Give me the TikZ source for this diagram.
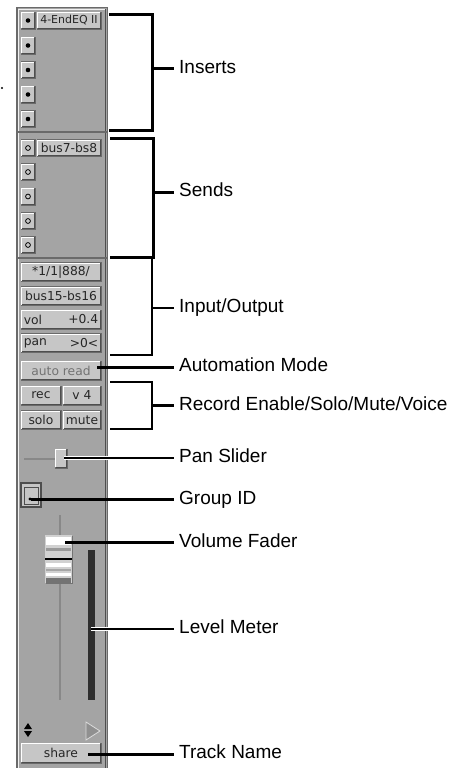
\documentclass[tikz,border=0pt]{standalone}
\usepackage{fontspec}
\setmainfont{Liberation Sans}
\newfontfamily\btnfont{DejaVu Sans}
\definecolor{panel}{HTML}{A4A4A4}
\definecolor{btnfill}{HTML}{C6C6C6}
\definecolor{btnedge}{HTML}{6A6A6A}
\definecolor{dk}{HTML}{4E4E4E}
\definecolor{trk}{HTML}{888888}
\newcommand\bvl[1]{%
  \draw[white,line width=1pt] ([shift={(1,-1)}]#1.south west) -- ([shift={(1,1)}]#1.north west) -- ([shift={(-1,1)}]#1.north east);
  \draw[dk,line width=1pt] ([shift={(-1,1)}]#1.north east) -- ([shift={(-1,-1)}]#1.south east) -- ([shift={(1,-1)}]#1.south west);}
\begin{document}
\begin{tikzpicture}[x=1pt,y=-1pt,
  btn/.style={draw=btnedge, fill=btnfill, line width=0.8pt, inner sep=0pt,
    font=\btnfont\fontsize{12.3}{12}\selectfont, text=black!85},
  sbtn/.style={btn, minimum width=14pt, minimum height=17pt},
  wbtn/.style={btn, minimum width=80pt, minimum height=19pt},
  btxt/.style={inner sep=0pt, font=\btnfont\fontsize{12.3}{12}\selectfont, text=black!85},
  lbl/.style={anchor=west, inner xsep=5pt, inner ysep=0pt, font=\fontsize{19}{22}\selectfont,
    text height=13.5pt, text depth=4pt},
  brk/.style={line width=3pt, line join=miter},
  thin/.style={line width=2pt, line join=miter},
  lnk/.style={line width=3pt},
  fine/.style={line width=1.3pt, preaction={draw=white, line width=3.5pt}}]
\useasboundingbox (0,0) rectangle (455,768);
% panel
\fill[panel] (16,7) rectangle (108,768);
\draw[btnedge, line width=1.5pt] (16.75,768) -- (16.75,7.75) -- (107.25,7.75) -- (107.25,768);
\draw[white!85!panel, line width=1pt] (18.5,768) -- (18.5,9.5) -- (105.5,9.5);
\draw[dk, line width=1pt] (105.5,9.5) -- (105.5,768);
\draw[btnedge, line width=1.5pt] (16,132) -- (108,132);
\draw[btnedge, line width=1.5pt] (16,258) -- (108,258);
\fill (2,88) circle (1.2);
% inserts
\foreach \i/\y in {1/20.5,2/45.5,3/70,4/94.5,5/119}{
  \node[sbtn] (ins\i) at (28,\y) {};
  \fill (ins\i) circle (2.3);
  \bvl{ins\i}
}
\node[btn, minimum width=64pt, minimum height=17pt, font=\btnfont\fontsize{11}{12}\selectfont] (insN) at (69,20.5) {4-EndEQ II};
\bvl{insN}
% sends
\foreach \i/\y in {1/148,2/172,3/196.5,4/221,5/245}{
  \node[sbtn] (snd\i) at (28,\y) {};
  \draw[line width=0.8pt] (snd\i) circle (2.4);
  \bvl{snd\i}
}
\node[btn, minimum width=64pt, minimum height=17pt] (sndN) at (69,148) {bus7-bs8};
\bvl{sndN}
% input / output
\node[wbtn] (inp) at (61,272) {*1/1|888/};
\node[wbtn] (outp) at (61,296) {bus15-bs16};
\node[wbtn] (vol) at (61,319.5) {};
\node[btxt, anchor=west] (volA) at ([xshift=3pt]vol.west) {vol};
\node[btxt, anchor=east] (volB) at ([xshift=-3pt]vol.east) {+0.4};
\node[wbtn] (pan) at (61,343) {};
\node[btxt, anchor=west] (panA) at ([xshift=3pt]pan.west) {pan};
\node[btxt, anchor=east] (panB) at ([xshift=-3pt]pan.east) {>0<};
\node[wbtn, text=black!55] (auto) at (61,370.5) {auto read};
\node[btn, minimum width=40pt, minimum height=19pt] (rec) at (41,395.5) {rec};
\node[btn, minimum width=38pt, minimum height=19pt] (voice) at (82,395.5) {v 4};
\node[btn, minimum width=40pt, minimum height=19pt] (solo) at (41,420) {solo};
\node[btn, minimum width=38pt, minimum height=19pt] (mute) at (82,420) {mute};
\foreach \n in {inp,outp,vol,pan,auto,rec,voice,solo,mute}{\bvl{\n}}
% pan slider
\draw[trk, line width=1.2pt] (24,459) -- (55,459);
\node[btn, minimum width=12pt, minimum height=19pt] (pank) at (61,458.5) {};
\bvl{pank}
% group id
\node[btn, draw=dk, line width=1.2pt, minimum width=20pt, minimum height=24pt] (grp) at (31,495) {};
\draw[dk, line width=1pt] (24,487) rectangle (38,504);
\fill (30,499) circle (1.6);
% fader and meter
\draw[trk, line width=1.2pt] (60,515) -- (60,700);
\node[fill=black!82, minimum width=7pt, minimum height=150pt, inner sep=0pt] (met) at (91.5,625) {};
\node[fill=black!18, minimum width=27pt, minimum height=48pt, inner sep=0pt] (fad) at (58.5,559) {};
\fill[white] (46,537) rectangle (71,545);
\fill[black!40] (46,548) rectangle (71,551);
\fill[white] (46,563) rectangle (71,567);
\fill[black!35] (46,569) rectangle (71,571);
\fill[white] (46,573) rectangle (71,576);
\fill[black!55] (46,578) rectangle (71,583);
\draw[black, line width=1.5pt] (45,559) -- (72,559);
\draw[black!55, line width=1pt] (72,536) -- (72,583) -- (46,583);
% bottom icons
\fill (24,729) -- (28,723) -- (32,729) -- cycle;
\fill (24,731) -- (28,737) -- (32,731) -- cycle;
\draw[white!60!panel, fill=black!12!panel, line width=0.8pt] (86,722) -- (86,740) -- (100,731) -- cycle;
\node[btn, minimum width=80pt, minimum height=20pt] (share) at (61,753) {share};
\bvl{share}
% labels
\node[lbl] (lIns) at (174,69) {Inserts};
\node[lbl] (lSnd) at (174,192) {Sends};
\node[lbl] (lIO) at (174,308) {Input/Output};
\node[lbl] (lAuto) at (174,367) {Automation Mode};
\node[lbl] (lRec) at (174,405.5) {Record Enable/Solo/Mute/Voice};
\node[lbl] (lPan) at (174,458) {Pan Slider};
\node[lbl] (lGrp) at (174,499.5) {Group ID};
\node[lbl] (lVol) at (174,542.5) {Volume Fader};
\node[lbl] (lMet) at (174,629) {Level Meter};
\node[lbl] (lTrk) at (174,754) {Track Name};
% brackets
\coordinate (insT) at (109,15);   \coordinate (insB) at (109,130.5); \coordinate (insM) at (152,69);
\coordinate (sndT) at (110,138.5); \coordinate (sndB) at (110,257); \coordinate (sndM) at (153,192);
\coordinate (ioT) at (110,257);   \coordinate (ioB) at (110,355);   \coordinate (ioM) at (152,308);
\coordinate (recT) at (110,382);  \coordinate (recB) at (110,429);  \coordinate (recM) at (152,405.5);
\draw[brk] (insT) -- ++(43,0) |- (insB);
\draw[brk] (insM) -- (lIns.west);
\draw[brk] (sndT) -- ++(43,0) |- (sndB);
\draw[brk] (sndM) -- (lSnd.west);
\draw[thin] (ioT) -- ++(42,0) |- (ioB);
\draw[thin] (ioM) -- (lIO.west);
\draw[thin] (recT) -- ++(42,0) |- (recB);
\draw[lnk] (recM) -- (lRec.west);
% pointers
\coordinate (autoP) at (97,367);
\coordinate (panP) at (64,458);
\coordinate (grpP) at (31,499.5);
\coordinate (volP) at (65,542.5);
\coordinate (metP) at (91,629);
\coordinate (trkP) at (88,754);
\draw[lnk] (autoP) -- (lAuto.west);
\draw[fine] (panP) -- (lPan.west);
\draw[lnk] (grpP) -- (lGrp.west);
\draw[lnk] (volP) -- (lVol.west);
\draw[fine] (metP) -- (lMet.west);
\draw[lnk] (trkP) -- (lTrk.west);
\end{tikzpicture}
\end{document}
